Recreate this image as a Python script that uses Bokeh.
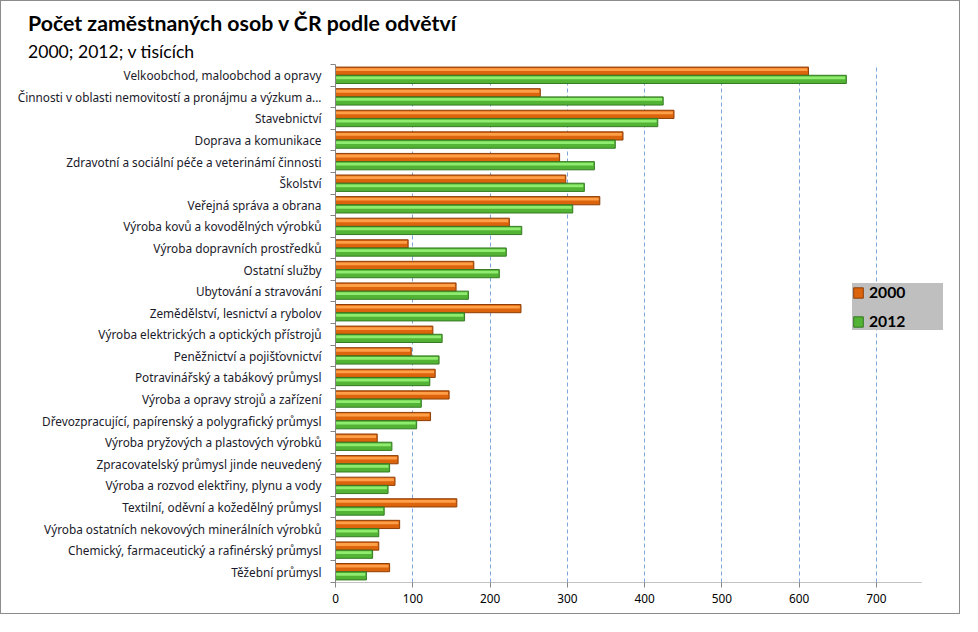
from bokeh.plotting import figure
from bokeh.models import (Range1d, FixedTicker, Legend, LegendItem, Title, ColumnDataSource)
from bokeh.embed import file_html
from bokeh.resources import INLINE
import numpy as np

categories = [
    "Velkoobchod, maloobchod a opravy",
    "Činnosti v oblasti nemovitostí a pronájmu a výzkum a...",
    "Stavebnictví",
    "Doprava a komunikace",
    "Zdravotní a sociální péče a veterinámí činnosti",
    "Školství",
    "Veřejná správa a obrana",
    "Výroba kovů a kovodělných výrobků",
    "Výroba dopravních prostředků",
    "Ostatní služby",
    "Ubytování a stravování",
    "Zemědělství, lesnictví a rybolov",
    "Výroba elektrických a optických přístrojů",
    "Peněžnictví a pojišťovnictví",
    "Potravinářský a tabákový průmysl",
    "Výroba a opravy strojů a zařízení",
    "Dřevozpracující, papírenský a polygrafický průmysl",
    "Výroba pryžových a plastových výrobků",
    "Zpracovatelský průmysl jinde neuvedený",
    "Výroba a rozvod elektřiny, plynu a vody",
    "Textilní, oděvní a kožedělný průmysl",
    "Výroba ostatních nekovových minerálních výrobků",
    "Chemický, farmaceutický a rafinérský průmysl",
    "Těžební průmysl",
]
values_2000 = [612, 265, 438, 372, 290, 298, 342, 225, 94, 179, 156, 240,
               126, 98, 129, 147, 123, 54, 81, 77, 157, 83, 56, 70]
values_2012 = [661, 424, 417, 362, 335, 322, 307, 241, 221, 212, 172, 167,
               138, 134, 122, 111, 105, 73, 70, 68, 63, 56, 48, 40]
series_names = ["2000", "2012"]
x_ticks = [0, 100, 200, 300, 400, 500, 600, 700]
axis_max = 758.5

n = len(categories)
yc = np.array([n - 1 - i + 0.5 for i in range(n)])
v00 = np.array(values_2000, dtype=float)
v12 = np.array(values_2012, dtype=float)

W, H = 960, 614
frame_left, frame_right = 334, 944
frame_top, frame_bottom = 63, 581
px_per_unit = 586.2 / axis_max
x_end = (frame_right - frame_left) / px_per_unit

p = figure(width=W, height=H, output_backend="svg", toolbar_location=None,
           x_range=Range1d(0, x_end), y_range=Range1d(0, n),
           min_border_left=frame_left, min_border_right=W - frame_right,
           min_border_top=frame_top, min_border_bottom=H - frame_bottom, title=None)
p.outline_line_color = None
p.background_fill_color = "white"
p.border_fill_color = "white"
p.styles = {"border": "1px solid #8c8c8c"}

# titles
sub = Title(text="2000; 2012; v tisících", text_font="Lato", text_font_size="17.6px",
            text_font_style="normal", text_color="#000000",
            offset=26.5 - frame_left, standoff=6)
main = Title(text="Počet zaměstnaných osob v ČR podle odvětví", text_font="Lato",
             text_font_size="21.3px", text_font_style="bold", text_color="#000000",
             offset=26.5 - frame_left, standoff=0)
p.add_layout(sub, "above")
p.add_layout(main, "above")

bh = 0.38
off = 0.19
src = ColumnDataSource(dict(y00=yc + off, y12=yc - off, v00=v00, v12=v12,
                            h00=yc + off + 0.07, h12=yc - off + 0.07,
                            hv00=v00 - 1.5, hv12=v12 - 1.5))

r00 = p.hbar(y="y00", right="v00", left=0, height=bh, source=src,
             fill_color="#DC640C", line_color="#8E3F08", line_width=1)
p.hbar(y="h00", right="hv00", left=0.8, height=0.13, source=src,
       fill_color="#FFA048", line_color=None)
r12 = p.hbar(y="y12", right="v12", left=0, height=bh, source=src,
             fill_color="#52B335", line_color="#357A22", line_width=1)
p.hbar(y="h12", right="hv12", left=0.8, height=0.13, source=src,
       fill_color="#8FEC6E", line_color=None)

# x axis line only up to axis_max
p.segment(x0=[0], y0=[0], x1=[axis_max], y1=[0], line_color="#868686", line_width=1)

p.xaxis.ticker = FixedTicker(ticks=x_ticks)
p.xaxis.axis_line_color = None
p.xaxis.major_tick_line_color = "#868686"
p.xaxis.major_tick_out = 5
p.xaxis.major_tick_in = 0
p.xaxis.minor_tick_line_color = None
p.xaxis.major_label_text_font = "Noto Sans"
p.xaxis.major_label_text_font_size = "11.8px"
p.xaxis.major_label_text_color = "#000000"
p.xaxis.major_label_standoff = 6

# y axis
p.yaxis.ticker = FixedTicker(ticks=list(yc), minor_ticks=list(range(0, n + 1)))
p.yaxis.major_label_overrides = {float(y): c for y, c in zip(yc, categories)}
p.yaxis.axis_line_color = "#868686"
p.yaxis.major_tick_line_color = None
p.yaxis.minor_tick_line_color = "#868686"
p.yaxis.minor_tick_out = 5
p.yaxis.minor_tick_in = 0
p.yaxis.major_label_text_font = "Noto Sans"
p.yaxis.major_label_text_font_size = "11.8px"
p.yaxis.major_label_text_color = "#1a1a2a"
p.yaxis.major_label_standoff = 8

# grid
p.ygrid.grid_line_color = None
p.xgrid.ticker = FixedTicker(ticks=x_ticks[1:])
p.xgrid.grid_line_color = "#7FA6DA"
p.xgrid.grid_line_dash = "4 3"
p.xgrid.grid_line_width = 1

legend = Legend(items=[LegendItem(label=series_names[0], renderers=[r00]),
                       LegendItem(label=series_names[1], renderers=[r12])],
                location=(517, 252), orientation="vertical")
legend.background_fill_color = "#BFBFBF"
legend.background_fill_alpha = 1.0
legend.border_line_color = None
legend.label_text_font = "Lato"
legend.label_text_font_style = "bold"
legend.label_text_font_size = "15.7px"
legend.label_text_color = "#000000"
legend.glyph_width = 12
legend.glyph_height = 13
legend.label_standoff = 5
legend.padding = 7
legend.spacing = 11
legend.margin = 0
legend.label_width = 74
p.add_layout(legend, "center")

open("out.html", "w").write(file_html(p, INLINE))
